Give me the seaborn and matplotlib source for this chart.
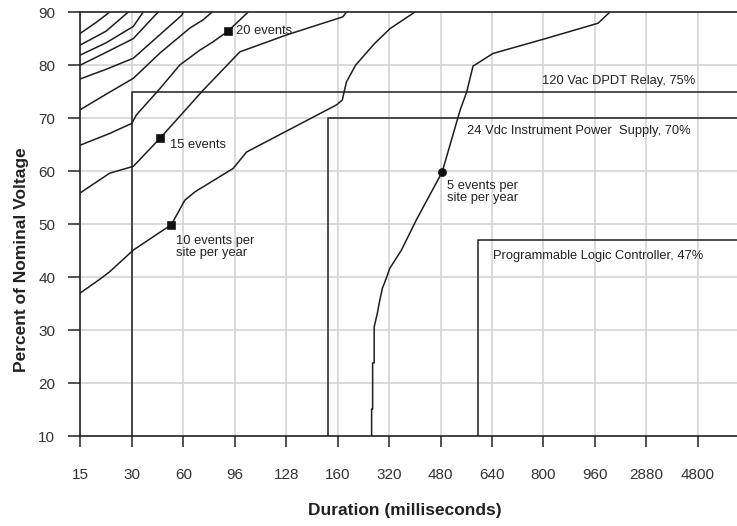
import matplotlib
matplotlib.use("Agg")
import matplotlib.pyplot as plt
import pandas as pd
import seaborn as sns

# Duration categories (evenly spaced on the x axis)
durations = ["15", "30", "60", "96", "128", "160", "320", "480", "640", "800", "960", "2880", "4800"]
voltage_ticks = [10, 20, 30, 40, 50, 60, 70, 80, 90]

# Sag-rate contours: position along the duration axis, percent of nominal voltage
c5_pos = [5.66, 5.66, 5.68, 5.68, 5.71, 5.71, 5.77, 5.82, 5.87, 5.95, 6.01, 6.24, 6.53, 7.03, 7.38, 7.51, 7.63, 8.02, 9.04, 10.06, 10.29]
c5_pct = [10.0, 15.1, 15.1, 23.8, 23.8, 30.6, 33.1, 35.7, 37.9, 39.9, 41.6, 45.1, 50.8, 59.8, 71.5, 75.0, 79.8, 82.2, 85.0, 87.9, 90.0]

c10_pos = [0.0, 0.38, 0.57, 1.03, 1.77, 2.03, 2.23, 2.97, 3.23, 4.98, 5.09, 5.17, 5.35, 5.72, 6.02, 6.50]
c10_pct = [37.0, 39.6, 41.0, 45.1, 49.9, 54.5, 56.1, 60.5, 63.6, 72.5, 73.4, 76.8, 80.0, 84.1, 86.9, 90.0]

c15_pos = [0.0, 0.57, 1.03, 1.55, 2.38, 3.10, 4.01, 5.10, 5.17]
c15_pct = [55.9, 59.6, 60.9, 66.2, 75.2, 82.5, 85.7, 89.1, 90.0]

c20_pos = [0.0, 0.57, 1.00, 1.09, 1.55, 1.93, 2.32, 2.58, 2.87, 3.26]
c20_pct = [64.9, 67.1, 69.0, 70.6, 75.6, 80.0, 82.8, 84.4, 86.4, 90.0]

c25_pos = [0.0, 0.5, 1.03, 1.55, 2.13, 2.38, 2.56]
c25_pct = [71.6, 74.5, 77.5, 82.3, 87.0, 88.5, 90.0]

c30_pos = [0.0, 0.5, 1.03, 1.97, 2.0]
c30_pct = [77.4, 79.2, 81.3, 89.4, 90.0]

c35_pos = [0.0, 0.5, 1.03, 1.51]
c35_pct = [80.0, 82.4, 85.0, 90.0]

c40_pos = [0.0, 0.5, 1.03, 1.22]
c40_pct = [81.9, 84.2, 87.3, 90.0]

c45_pos = [0.0, 0.5, 0.93]
c45_pct = [83.8, 86.4, 90.0]

c50_pos = [0.0, 0.3, 0.57]
c50_pct = [86.0, 88.0, 90.0]

# Equipment ride-through limits: start position on duration axis, voltage level
eq_names = ["120 Vac DPDT Relay, 75%", "24 Vdc Instrument Power  Supply, 70%", "Programmable Logic Controller, 47%"]
eq_start = [1.0, 4.81, 7.72]
eq_level = [75, 70, 47]

# Labelled points on contours
mark_pos = [2.87, 1.55, 1.77, 7.03]
mark_pct = [86.4, 66.2, 49.9, 59.8]
mark_shape = ["s", "s", "s", "o"]
mark_text = ["20 events", "15 events", "10 events per\nsite per year", "5 events per\nsite per year"]

curves = {
    "5": (c5_pos, c5_pct), "10": (c10_pos, c10_pct), "15": (c15_pos, c15_pct),
    "20": (c20_pos, c20_pct), "25": (c25_pos, c25_pct), "30": (c30_pos, c30_pct),
    "35": (c35_pos, c35_pct), "40": (c40_pos, c40_pct), "45": (c45_pos, c45_pct),
    "50": (c50_pos, c50_pct),
}
frames = []
for name, (p, v) in curves.items():
    frames.append(pd.DataFrame({"pos": p, "pct": v, "curve": name}))
df = pd.concat(frames, ignore_index=True)

sns.set_style("white")
plt.rcParams["font.family"] = ["Liberation Sans", "DejaVu Sans"]

fig = plt.figure(figsize=(7.37, 5.26), dpi=100)
ax = fig.add_axes([0.109, 0.171, 0.891, 0.806])

XMAX = 12.76
ink = "#1e1e1e"

# grid
for i in range(len(durations)):
    ax.axvline(i, color="#d4d4d4", lw=1.2, zorder=0)
for v in voltage_ticks[1:-1]:
    ax.axhline(v, color="#d4d4d4", lw=1.2, zorder=0)

sns.lineplot(data=df, x="pos", y="pct", units="curve", estimator=None, sort=False,
             color=ink, lw=1.1, ax=ax, legend=False)

# equipment limit lines
for s, lvl in zip(eq_start, eq_level):
    ax.plot([s, s, XMAX], [10, lvl, lvl], color=ink, lw=1.1, zorder=3)

ann = dict(fontsize=9.3, color="#222")
ax.text(11.94, 77.0, eq_names[0], ha="right", va="center", **ann)
ax.text(7.51, 67.6, eq_names[1], ha="left", va="center", **ann)
ax.text(8.02, 44.0, eq_names[2], ha="left", va="center", **ann)

for x, y, m in zip(mark_pos, mark_pct, mark_shape):
    sns.scatterplot(x=[x], y=[y], marker=m, s=34, color="#111", edgecolor="#111",
                    ax=ax, zorder=5, legend=False)
offsets = [(0.16, 0.0), (0.20, -1.3), (0.09, -1.9), (0.09, -1.4)]
vas = ["center", "center", "top", "top"]
for (x, y, t, (dx, dy), va) in zip(mark_pos, mark_pct, mark_text, offsets, vas):
    ax.text(x + dx, y + dy, t, ha="left", va=va, linespacing=1.05, **ann)

ax.set_xlim(0, XMAX)
ax.set_ylim(10, 90)
ax.set_xticks(range(len(durations)))
ax.set_xticklabels(durations)
ax.set_yticks(voltage_ticks)
ax.tick_params(axis="x", direction="out", length=8, width=1.2, color="#333", pad=15,
               labelsize=11, labelcolor="#333")
ax.tick_params(axis="y", direction="out", length=9, width=1.2, color="#333", pad=9,
               labelsize=11, labelcolor="#333")
ax.tick_params(bottom=True, left=True)

for side in ["left", "bottom", "top"]:
    ax.spines[side].set_color("#222")
    ax.spines[side].set_linewidth(1.2)
ax.spines["right"].set_visible(False)

ax.set_xlabel("Duration (milliseconds)", fontsize=12.5, fontweight="bold", color="#222")
ax.set_ylabel("Percent of Nominal Voltage", fontsize=12.5, fontweight="bold", color="#222")
ax.xaxis.set_label_coords(0.494, -0.158)
ax.yaxis.set_label_coords(-0.078, 0.415)

fig.savefig("out.png", dpi=100)
